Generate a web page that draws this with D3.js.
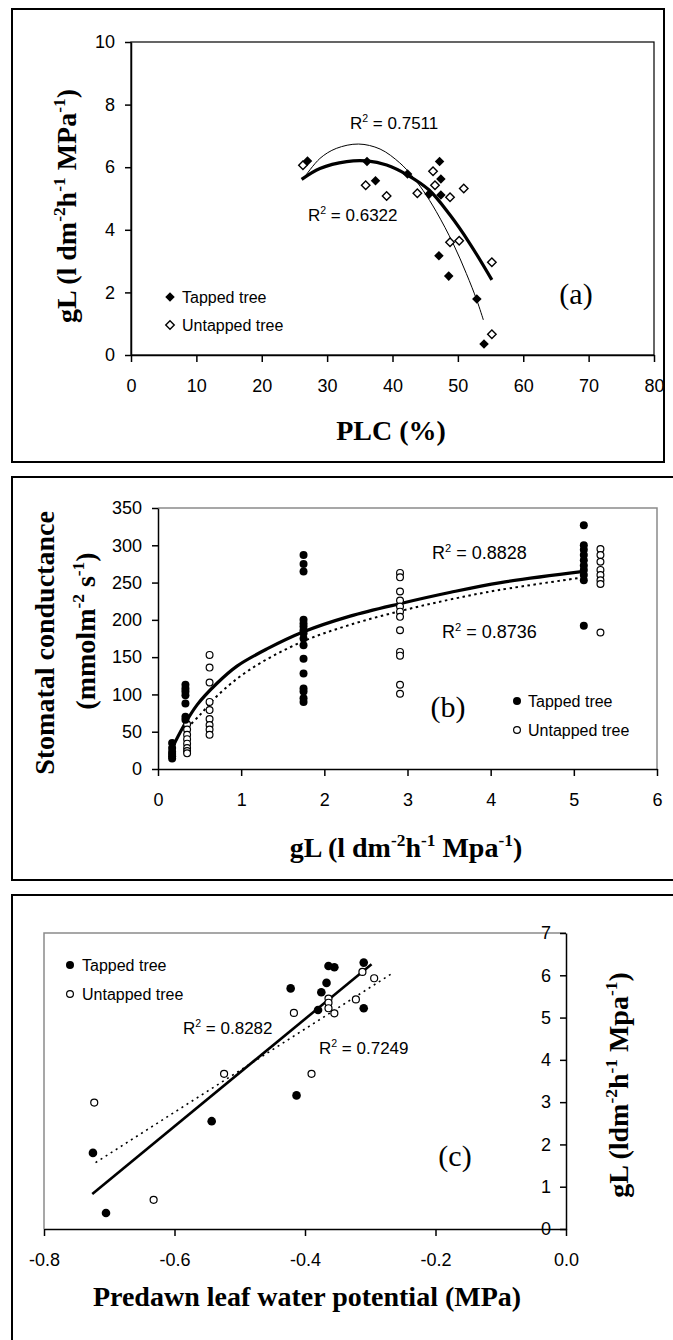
<!DOCTYPE html>
<html><head><meta charset="utf-8">
<script src="https://cdn.jsdelivr.net/npm/d3@7"></script>
<style>body{margin:0;background:#fff}svg{display:block}</style>
</head><body><svg id="c" width="673" height="1340"></svg>
<script>
// ---------- Panel (a) data: gL vs PLC ----------
const aXTicks = [0,10,20,30,40,50,60,70,80];
const aYTicks = [0,2,4,6,8,10];
const aTappedPLC = [27.0, 36.1, 37.4, 42.3, 45.6, 47.2, 47.4, 47.4, 47.1, 48.6, 52.9, 54.0];
const aTappedGL  = [6.20, 6.18, 5.57, 5.78, 5.14, 6.18, 5.62, 5.11, 3.17, 2.52, 1.79, 0.35];
const aUntappedPLC = [26.3, 35.9, 39.1, 43.8, 46.2, 46.5, 48.8, 50.9, 48.8, 50.2, 55.2, 55.2];
const aUntappedGL  = [6.06, 5.42, 5.08, 5.17, 5.87, 5.42, 5.04, 5.32, 3.60, 3.65, 2.96, 0.66];
const aFitThickPLC = [26.1, 28.9, 33.0, 36.1, 39.1, 42.3, 45.6, 48.8, 51.8, 55.2];
const aFitThickGL  = [5.61, 5.96, 6.18, 6.20, 6.07, 5.75, 5.27, 4.47, 3.57, 2.40];
const aFitThinPLC = [26.6, 28.9, 31.4, 34.8, 38.1, 41.1, 43.0, 44.7, 46.7, 49.3, 51.3, 52.9, 53.9];
const aFitThinGL  = [5.70, 6.28, 6.60, 6.74, 6.58, 6.14, 5.72, 5.25, 4.58, 3.55, 2.60, 1.75, 1.12];
const aR2 = ["0.7511", "0.6322"];

// ---------- Panel (b) data: stomatal conductance vs gL ----------
const bXTicks = [0,1,2,3,4,5,6];
const bYTicks = [0,50,100,150,200,250,300,350];
const bTappedGL = [0.17,0.17,0.17,0.17,0.17,0.17,
  0.33,0.33,0.33,0.33,0.33,0.33,0.33,
  1.75,1.75,1.75,1.75,1.75,1.75,1.75,1.75,1.75,1.75,1.75,1.75,1.75,1.75,1.75,1.75,
  5.12,5.12,5.12,5.12,5.12,5.12,5.12,5.12,5.12,5.12];
const bTappedGS = [35,28,23,20,17,14,
  113,108,104,99,88,70,66,
  287,275,265,200,195,191,186,182,175,166,148,128,108,104,95,90,
  327,300,294,287,280,273,267,260,253,192];
const bUntappedGL = [0.35,0.35,0.35,0.35,0.35,0.35,0.35,0.35,
  0.62,0.62,0.62,0.62,0.62,0.62,0.62,0.62,0.62,
  2.91,2.91,2.91,2.91,2.91,2.91,2.91,2.91,2.91,2.91,2.91,2.91,
  5.32,5.32,5.32,5.32,5.32,5.32,5.32,5.32];
const bUntappedGS = [60,53,46,40,34,28,24,21,
  153,136,116,90,79,67,59,53,46,
  263,257,238,226,218,211,204,186,157,152,113,101,
  295,287,278,267,260,253,248,183];
const bFitSolidGL = [0.17, 0.30, 0.47, 0.71, 0.95, 1.31, 1.75, 2.31, 2.92, 3.52, 4.12, 5.12];
const bFitSolidGS = [28, 56, 86, 115, 138, 161, 184, 205, 222, 237, 250, 265];
const bFitDotGL = [0.35, 0.50, 0.71, 1.10, 1.72, 2.30, 2.92, 3.50, 4.10, 5.12];
const bFitDotGS = [55, 72, 98, 133, 170, 193, 212, 227, 240, 257];
const bR2 = ["0.8828", "0.8736"];

// ---------- Panel (c) data: gL vs predawn leaf water potential ----------
const cXTicks = [-0.8,-0.6,-0.4,-0.2,0];
const cYTicks = [0,1,2,3,4,5,6,7];
const cTappedPsi = [-0.725, -0.705, -0.543, -0.413, -0.422, -0.380, -0.375, -0.367, -0.364, -0.355, -0.310, -0.310];
const cTappedGL  = [1.80, 0.38, 2.55, 3.16, 5.69, 5.18, 5.60, 5.82, 6.22, 6.19, 6.30, 5.22];
const cUntappedPsi = [-0.723, -0.632, -0.524, -0.390, -0.417, -0.364, -0.364, -0.364, -0.355, -0.322, -0.312, -0.294];
const cUntappedGL  = [2.99, 0.69, 3.67, 3.67, 5.11, 5.45, 5.35, 5.22, 5.10, 5.43, 6.08, 5.93];
const cFitSolidPsi = [-0.726, -0.298];
const cFitSolidGL  = [0.83, 6.26];
const cFitDotPsi = [-0.721, -0.267];
const cFitDotGL  = [1.57, 6.04];
const cR2 = ["0.8282", "0.7249"];

const legendNames = ["Tapped tree", "Untapped tree"];

// ---------- drawing ----------
const svg = d3.select("#c");
const SANS = "'Liberation Sans', Arial, sans-serif";
const SERIF = "'Liberation Serif', 'Times New Roman', serif";
const zip = (xs, ys) => xs.map((x, i) => [x, ys[i]]);
const intFmt = d => String(d);

function styleAxis(g) {
  g.selectAll("path.domain").attr("stroke", "#000").attr("stroke-width", 1.5);
  g.selectAll(".tick line").attr("stroke", "#000").attr("stroke-width", 1.5);
  g.selectAll(".tick text").attr("font-family", SANS).attr("font-size", 18).attr("fill", "#000");
}

function richText(parent, parts, opts) {
  const t = parent.append("text")
    .attr("font-family", opts.family).attr("font-size", opts.size)
    .attr("font-weight", opts.weight || "normal")
    .attr("text-anchor", opts.anchor || "middle")
    .attr("fill", "#000");
  if (opts.transform) t.attr("transform", opts.transform);
  else t.attr("x", opts.x).attr("y", opts.y);
  let raised = false;
  parts.forEach(p => {
    const sp = t.append("tspan").text(p.t);
    if (p.sup && !raised) { sp.attr("dy", -opts.size * 0.4).attr("font-size", opts.size * 0.62); raised = true; }
    else if (p.sup && raised) { sp.attr("font-size", opts.size * 0.62); }
    else if (!p.sup && raised) { sp.attr("dy", opts.size * 0.4); raised = false; }
  });
  return t;
}

function r2Label(x, y, val, size) {
  richText(svg, [{t:"R"},{t:"2",sup:true},{t:" = " + val}],
    {family: SANS, size: size, anchor: "start", x: x, y: y});
}

// Outer boxes
svg.append("rect").attr("x", 12).attr("y", 9).attr("width", 652).attr("height", 453)
  .attr("fill", "none").attr("stroke", "#000").attr("stroke-width", 2);
svg.append("rect").attr("x", 12).attr("y", 477).attr("width", 690).attr("height", 403)
  .attr("fill", "none").attr("stroke", "#000").attr("stroke-width", 2);
svg.append("rect").attr("x", 12).attr("y", 895).attr("width", 690).attr("height", 500)
  .attr("fill", "none").attr("stroke", "#000").attr("stroke-width", 2);

// ===== Panel (a) =====
{
  const x = d3.scaleLinear().domain([0, 80]).range([131, 654]);
  const y = d3.scaleLinear().domain([0, 10]).range([355, 42]);
  svg.append("rect").attr("x", x(0)).attr("y", y(10)).attr("width", x(80) - x(0)).attr("height", y(0) - y(10))
    .attr("fill", "none").attr("stroke", "#000").attr("stroke-width", 1.2);
  svg.append("g").attr("transform", `translate(0,${y(0)})`)
    .call(d3.axisBottom(x).tickValues(aXTicks).tickFormat(intFmt).tickSize(7).tickSizeOuter(0).tickPadding(17))
    .call(styleAxis);
  svg.append("g").attr("transform", `translate(${x(0)},0)`)
    .call(d3.axisLeft(y).tickValues(aYTicks).tickFormat(intFmt).tickSize(6).tickSizeOuter(0).tickPadding(10))
    .call(styleAxis);

  const line = d3.line().x(d => x(d[0])).y(d => y(d[1])).curve(d3.curveCatmullRom.alpha(0.5));
  svg.append("path").datum(zip(aFitThinPLC, aFitThinGL)).attr("d", line)
    .attr("fill", "none").attr("stroke", "#000").attr("stroke-width", 1);
  svg.append("path").datum(zip(aFitThickPLC, aFitThickGL)).attr("d", line)
    .attr("fill", "none").attr("stroke", "#000").attr("stroke-width", 3.2);

  const dFilled = d3.symbol().type(d3.symbolDiamond2).size(58)();
  const dOpen = d3.symbol().type(d3.symbolDiamond2).size(46)();
  svg.append("g").selectAll("path").data(zip(aUntappedPLC, aUntappedGL)).join("path")
    .attr("d", dOpen).attr("transform", d => `translate(${x(d[0])},${y(d[1])})`)
    .attr("fill", "#fff").attr("stroke", "#000").attr("stroke-width", 1.4);
  svg.append("g").selectAll("path").data(zip(aTappedPLC, aTappedGL)).join("path")
    .attr("d", dFilled).attr("transform", d => `translate(${x(d[0])},${y(d[1])})`)
    .attr("fill", "#000");

  r2Label(350, 129, aR2[0], 17);
  r2Label(308, 221, aR2[1], 17);

  // legend
  svg.append("path").attr("d", dFilled).attr("transform", "translate(170,297)").attr("fill", "#000");
  svg.append("path").attr("d", dOpen).attr("transform", "translate(170,325)")
    .attr("fill", "#fff").attr("stroke", "#000").attr("stroke-width", 1.4);
  svg.append("text").attr("x", 182).attr("y", 303).text(legendNames[0])
    .attr("font-family", SANS).attr("font-size", 16);
  svg.append("text").attr("x", 182).attr("y", 331).text(legendNames[1])
    .attr("font-family", SANS).attr("font-size", 16);

  svg.append("text").attr("x", 576).attr("y", 304).attr("text-anchor", "middle")
    .attr("font-family", SERIF).attr("font-size", 30).text("(a)");

  richText(svg, [{t:"PLC (%)"}], {family: SERIF, size: 28, weight: "bold", x: 391, y: 440});
  richText(svg, [{t:"gL (l dm"},{t:"-2",sup:true},{t:"h"},{t:"-1",sup:true},{t:" MPa"},{t:"-1",sup:true},{t:")"}],
    {family: SERIF, size: 28, weight: "bold", transform: "translate(76,206) rotate(-90)"});
}

// ===== Panel (b) =====
{
  const x = d3.scaleLinear().domain([0, 6]).range([158, 657]);
  const y = d3.scaleLinear().domain([0, 350]).range([769, 508]);
  svg.append("path").attr("d", `M${x(0)},${y(350)}H${x(6)}V${y(0)}`)
    .attr("fill", "none").attr("stroke", "#8a8a8a").attr("stroke-width", 1.5);
  svg.append("g").attr("transform", `translate(0,${y(0)})`)
    .call(d3.axisBottom(x).tickValues(bXTicks).tickFormat(intFmt).tickSize(7).tickSizeOuter(0).tickPadding(17))
    .call(styleAxis);
  svg.append("g").attr("transform", `translate(${x(0)},0)`)
    .call(d3.axisLeft(y).tickValues(bYTicks).tickFormat(intFmt).tickSize(6).tickSizeOuter(0).tickPadding(10))
    .call(styleAxis);

  const line = d3.line().x(d => x(d[0])).y(d => y(d[1])).curve(d3.curveCatmullRom.alpha(0.5));
  svg.append("path").datum(zip(bFitDotGL, bFitDotGS)).attr("d", line)
    .attr("fill", "none").attr("stroke", "#000").attr("stroke-width", 2).attr("stroke-dasharray", "2.5,3.5");
  svg.append("path").datum(zip(bFitSolidGL, bFitSolidGS)).attr("d", line)
    .attr("fill", "none").attr("stroke", "#000").attr("stroke-width", 3.2);

  svg.append("g").selectAll("circle").data(zip(bUntappedGL, bUntappedGS)).join("circle")
    .attr("cx", d => x(d[0])).attr("cy", d => y(d[1])).attr("r", 3.4)
    .attr("fill", "#fff").attr("stroke", "#000").attr("stroke-width", 1.2);
  svg.append("g").selectAll("circle").data(zip(bTappedGL, bTappedGS)).join("circle")
    .attr("cx", d => x(d[0])).attr("cy", d => y(d[1])).attr("r", 4)
    .attr("fill", "#000");

  r2Label(432, 559, bR2[0], 18);
  r2Label(442, 638, bR2[1], 18);

  svg.append("circle").attr("cx", 517).attr("cy", 701).attr("r", 4).attr("fill", "#000");
  svg.append("circle").attr("cx", 517).attr("cy", 730).attr("r", 3.4)
    .attr("fill", "#fff").attr("stroke", "#000").attr("stroke-width", 1.2);
  svg.append("text").attr("x", 528).attr("y", 707).text(legendNames[0])
    .attr("font-family", SANS).attr("font-size", 16);
  svg.append("text").attr("x", 528).attr("y", 736).text(legendNames[1])
    .attr("font-family", SANS).attr("font-size", 16);

  svg.append("text").attr("x", 448).attr("y", 717).attr("text-anchor", "middle")
    .attr("font-family", SERIF).attr("font-size", 30).text("(b)");

  richText(svg, [{t:"Stomatal conductance"}],
    {family: SERIF, size: 28, weight: "bold", transform: "translate(54,643) rotate(-90)"});
  richText(svg, [{t:"(mmolm"},{t:"-2",sup:true},{t:" s"},{t:"-1",sup:true},{t:")"}],
    {family: SERIF, size: 28, weight: "bold", transform: "translate(95,631) rotate(-90)"});
  richText(svg, [{t:"gL (l dm"},{t:"-2",sup:true},{t:"h"},{t:"-1",sup:true},{t:" Mpa"},{t:"-1",sup:true},{t:")"}],
    {family: SERIF, size: 28, weight: "bold", x: 406, y: 857});
}

// ===== Panel (c) =====
{
  const x = d3.scaleLinear().domain([-0.8, 0]).range([44, 566]);
  const y = d3.scaleLinear().domain([0, 7]).range([1229, 933]);
  svg.append("path").attr("d", `M${x(-0.8)},${y(0)}V${y(7)}H${x(0)}`)
    .attr("fill", "none").attr("stroke", "#8a8a8a").attr("stroke-width", 1.5);
  svg.append("g").attr("transform", `translate(0,${y(0)})`)
    .call(d3.axisBottom(x).tickValues(cXTicks).tickFormat(d => d.toFixed(1)).tickSize(7).tickSizeOuter(0).tickPadding(17))
    .call(styleAxis);
  svg.append("g").attr("transform", `translate(${x(0)},0)`)
    .call(d3.axisLeft(y).tickValues(cYTicks).tickFormat(intFmt).tickSize(6).tickSizeOuter(0).tickPadding(9))
    .call(styleAxis);

  const line = d3.line().x(d => x(d[0])).y(d => y(d[1]));
  svg.append("path").datum(zip(cFitDotPsi, cFitDotGL)).attr("d", line)
    .attr("fill", "none").attr("stroke", "#000").attr("stroke-width", 1.6).attr("stroke-dasharray", "2,4");
  svg.append("path").datum(zip(cFitSolidPsi, cFitSolidGL)).attr("d", line)
    .attr("fill", "none").attr("stroke", "#000").attr("stroke-width", 2.6);

  svg.append("g").selectAll("circle").data(zip(cUntappedPsi, cUntappedGL)).join("circle")
    .attr("cx", d => x(d[0])).attr("cy", d => y(d[1])).attr("r", 3.5)
    .attr("fill", "#fff").attr("stroke", "#000").attr("stroke-width", 1.2);
  svg.append("g").selectAll("circle").data(zip(cTappedPsi, cTappedGL)).join("circle")
    .attr("cx", d => x(d[0])).attr("cy", d => y(d[1])).attr("r", 4.3)
    .attr("fill", "#000");

  r2Label(183, 1034, cR2[0], 17);
  r2Label(319, 1054, cR2[1], 17);

  svg.append("circle").attr("cx", 70).attr("cy", 965).attr("r", 4).attr("fill", "#000");
  svg.append("circle").attr("cx", 70).attr("cy", 994).attr("r", 3.4)
    .attr("fill", "#fff").attr("stroke", "#000").attr("stroke-width", 1.2);
  svg.append("text").attr("x", 82).attr("y", 971).text(legendNames[0])
    .attr("font-family", SANS).attr("font-size", 16);
  svg.append("text").attr("x", 82).attr("y", 1000).text(legendNames[1])
    .attr("font-family", SANS).attr("font-size", 16);

  svg.append("text").attr("x", 455).attr("y", 1166).attr("text-anchor", "middle")
    .attr("font-family", SERIF).attr("font-size", 30).text("(c)");

  richText(svg, [{t:"Predawn leaf water potential (MPa)"}],
    {family: SERIF, size: 28, weight: "bold", x: 307, y: 1306});
  richText(svg, [{t:"gL (ldm"},{t:"-2",sup:true},{t:"h"},{t:"-1",sup:true},{t:" Mpa"},{t:"-1",sup:true},{t:")"}],
    {family: SERIF, size: 28, weight: "bold", transform: "translate(628,1085) rotate(-90)"});
}
</script></body></html>
